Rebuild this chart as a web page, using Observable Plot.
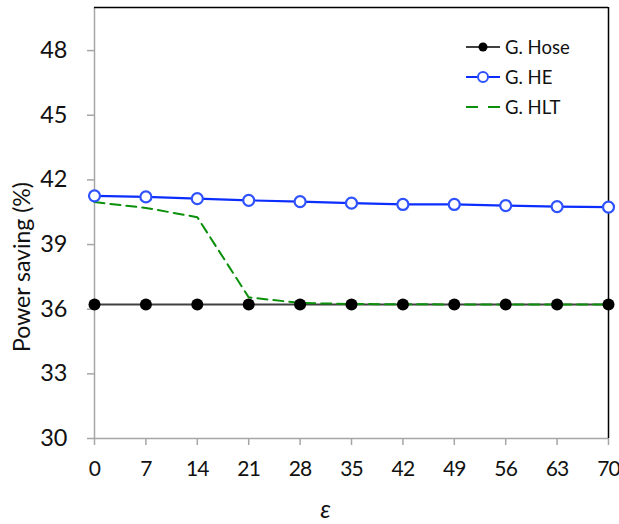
<!DOCTYPE html>
<html>
<head>
<meta charset="utf-8">
<script src="https://cdn.jsdelivr.net/npm/d3@7"></script>
<script src="https://cdn.jsdelivr.net/npm/@observablehq/plot@0.6"></script>
<style>
  body { margin: 0; background: #fff; font-family: Lato, "Open Sans", sans-serif; }
  #wrap { position: relative; width: 619px; height: 524px; }
  #legend { position: absolute; left: 466px; top: 32px; font-family: Lato, sans-serif; font-size: 18.5px; color: #111; }
  #legend .row { display: flex; align-items: center; height: 30px; }
  #legend svg { margin-right: 3px; }
  g[aria-label="x-axis tick label"] text { letter-spacing: -0.8px; }
</style>
</head>
<body>
<div id="wrap"></div>
<script>
// ---- data ----
const epsilon = [0, 7, 14, 21, 28, 35, 42, 49, 56, 63, 70];
const gHose = [36.22, 36.22, 36.22, 36.22, 36.22, 36.22, 36.22, 36.22, 36.22, 36.22, 36.22];
const gHE   = [41.26, 41.21, 41.13, 41.05, 40.99, 40.92, 40.86, 40.86, 40.81, 40.76, 40.74];
const gHLT  = [40.97, 40.70, 40.27, 36.55, 36.29, 36.24, 36.23, 36.22, 36.22, 36.22, 36.22];
const seriesNames = ["G. Hose", "G. HE", "G. HLT"];
const xTicks = [0, 7, 14, 21, 28, 35, 42, 49, 56, 63, 70];
const yTicks = [30, 33, 36, 39, 42, 45, 48];
const xDomain = [0, 70];
const yDomain = [30, 50];
const yTitle = "Power saving (%)";
const xTitle = "ε";

const hoseData = epsilon.map((e, i) => ({x: e, y: gHose[i]}));
const heData   = epsilon.map((e, i) => ({x: e, y: gHE[i]}));
const hltData  = epsilon.map((e, i) => ({x: e, y: gHLT[i]}));

const colors = {hose: "#404040", hoseDot: "#000", he: "#0b2eff", heDot: "#2f52ff", hlt: "#0a900a"};

const chart = Plot.plot({
  width: 619,
  height: 524,
  marginLeft: 94,
  marginRight: 11,
  marginTop: 7,
  marginBottom: 86,
  style: {fontFamily: "Lato, sans-serif", background: "#fff", color: "#111"},
  x: {domain: xDomain},
  y: {domain: yDomain},
  marks: [
    Plot.ruleX([xDomain[0]], {stroke: "#a6a6a6", strokeWidth: 1.5}),
    Plot.ruleY([yDomain[0]], {stroke: "#a6a6a6", strokeWidth: 1.5}),
    Plot.ruleX([xDomain[1]], {stroke: "#000", strokeWidth: 1.5}),
    Plot.ruleY([yDomain[1]], {stroke: "#000", strokeWidth: 1.5}),
    Plot.axisX({ticks: xTicks, tickSize: 7, tickPadding: 16, fontSize: 21, stroke: "#a6a6a6", strokeWidth: 1.5, fill: "#111", label: null}),
    Plot.axisY({ticks: yTicks, tickSize: 7, tickPadding: 20, fontSize: 23.5, stroke: "#a6a6a6", strokeWidth: 1.5, fill: "#111", label: null}),
    Plot.line(hoseData, {x: "x", y: "y", stroke: colors.hose, strokeWidth: 2}),
    Plot.line(hltData, {x: "x", y: "y", stroke: colors.hlt, strokeWidth: 2, strokeDasharray: "10,6"}),
    Plot.line(heData, {x: "x", y: "y", stroke: colors.he, strokeWidth: 2.2}),
    Plot.dot(hoseData, {x: "x", y: "y", r: 6, fill: colors.hoseDot, stroke: "none"}),
    Plot.dot(heData, {x: "x", y: "y", r: 5.5, fill: "#fff", stroke: colors.heDot, strokeWidth: 2.2}),
    Plot.text([yTitle], {frameAnchor: "left", textAnchor: "middle", rotate: -90, dx: -72, dy: 44, fontSize: 23, fill: "#111"}),
    Plot.text([xTitle], {frameAnchor: "bottom", dx: -26, dy: 79, fontSize: 25, fontStyle: "italic", fill: "#111"})
  ]
});

const wrap = document.getElementById("wrap");
wrap.appendChild(chart);

// legend
const legend = document.createElement("div");
legend.id = "legend";
const legendSpecs = [
  {name: seriesNames[0], stroke: colors.hose, dash: null, dot: {fill: "#000", stroke: "none", r: 4.5}},
  {name: seriesNames[1], stroke: colors.he, dash: null, dot: {fill: "#fff", stroke: colors.heDot, r: 5}},
  {name: seriesNames[2], stroke: colors.hlt, dash: "12,10", dot: null}
];
for (const s of legendSpecs) {
  const row = document.createElement("div");
  row.className = "row";
  const svg = d3.create("svg").attr("width", 36).attr("height", 16);
  svg.append("line").attr("x1", 0).attr("x2", 34).attr("y1", 8).attr("y2", 8)
    .attr("stroke", s.stroke).attr("stroke-width", 2).attr("stroke-dasharray", s.dash);
  if (s.dot) svg.append("circle").attr("cx", 17).attr("cy", 8).attr("r", s.dot.r)
    .attr("fill", s.dot.fill).attr("stroke", s.dot.stroke).attr("stroke-width", 2);
  row.appendChild(svg.node());
  const t = document.createElement("span");
  t.textContent = s.name;
  row.appendChild(t);
  legend.appendChild(row);
}
wrap.appendChild(legend);
</script>
</body>
</html>
